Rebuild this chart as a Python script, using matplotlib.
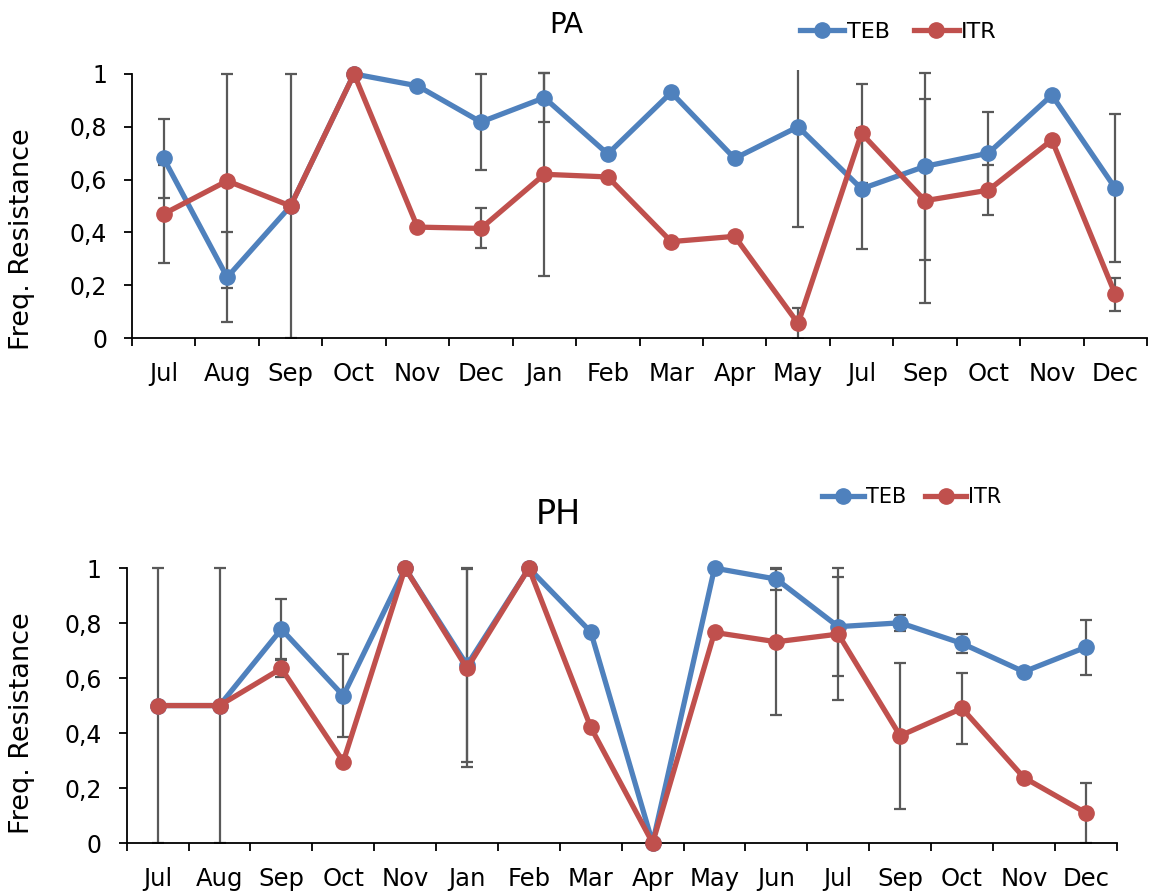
import matplotlib
matplotlib.use('Agg')
import matplotlib.pyplot as plt
import numpy as np

nan = np.nan

# PA panel
pa_months = ['Jul', 'Aug', 'Sep', 'Oct', 'Nov', 'Dec', 'Jan', 'Feb', 'Mar', 'Apr', 'May',
             'Jul', 'Sep', 'Oct', 'Nov', 'Dec']
pa_teb = [0.68, 0.23, 0.50, 1.00, 0.955, 0.818, 0.91, 0.697, 0.93, 0.68, 0.80,
          0.565, 0.65, 0.70, 0.92, 0.567]
pa_itr = [0.47, 0.595, 0.50, 1.00, 0.42, 0.415, 0.62, 0.61, 0.365, 0.385, 0.055,
          0.775, 0.52, 0.56, 0.75, 0.165]
pa_teb_err = [0.15, 0.17, 0.50, nan, nan, 0.183, 0.093, nan, nan, nan, 0.38,
              0.229, 0.354, 0.157, nan, 0.281]
pa_itr_err = [0.187, 0.405, nan, nan, nan, 0.076, 0.385, nan, nan, nan, 0.057,
              0.188, 0.387, 0.094, nan, 0.063]

# PH panel
ph_months = ['Jul', 'Aug', 'Sep', 'Oct', 'Nov', 'Jan', 'Feb', 'Mar', 'Apr', 'May', 'Jun',
             'Jul', 'Sep', 'Oct', 'Nov', 'Dec']
ph_teb = [0.5, 0.5, 0.778, 0.536, 1.0, 0.647, 1.0, 0.768, 0.0, 1.0, 0.96,
          0.787, 0.801, 0.726, 0.623, 0.712]
ph_itr = [0.5, 0.5, 0.635, 0.296, 1.0, 0.635, 1.0, 0.421, 0.0, 0.766, 0.732,
          0.76, 0.39, 0.49, 0.238, 0.11]
ph_teb_err = [0.5, 0.5, 0.11, 0.152, nan, 0.353, nan, nan, nan, nan, 0.04,
              0.18, 0.03, 0.033, nan, 0.10]
ph_itr_err = [nan, nan, 0.03, nan, nan, 0.36, nan, nan, nan, nan, 0.265,
              0.24, 0.265, 0.13, nan, 0.11]

yticks = [0, 0.2, 0.4, 0.6, 0.8, 1.0]
ytick_labels = ['0', '0,2', '0,4', '0,6', '0,8', '1']

BLUE = '#4F81BD'
RED = '#C0504D'
GREY = '#595959'

plt.rcParams['font.family'] = 'DejaVu Sans'

fig = plt.figure(figsize=(11.53, 8.96), dpi=100)


def draw_panel(ax, months, teb, itr, teb_err, itr_err):
    x = np.arange(len(months)) + 0.5
    for vals, err in [(teb, teb_err), (itr, itr_err)]:
        vals = np.array(vals)
        err = np.array(err)
        ok = ~np.isnan(err)
        ax.errorbar(x[ok], vals[ok], yerr=err[ok], fmt='none', ecolor=GREY,
                    elinewidth=1.6, capsize=4.5, capthick=1.6, zorder=1.5)
    l1, = ax.plot(x, teb, color=BLUE, lw=3.8, marker='o', ms=11, label='TEB',
                  clip_on=False, zorder=2)
    l2, = ax.plot(x, itr, color=RED, lw=3.8, marker='o', ms=11, label='ITR',
                  clip_on=False, zorder=3)
    ax.set_xlim(0, len(months))
    ax.set_ylim(0, 1.015)
    ax.spines['top'].set_visible(False)
    ax.spines['right'].set_visible(False)
    ax.spines['left'].set_bounds(0, 1)
    for s in ['left', 'bottom']:
        ax.spines[s].set_linewidth(1.3)
    ax.set_xticks(np.arange(len(months) + 1))
    ax.set_xticklabels([])
    ax.set_xticks(x, minor=True)
    ax.set_xticklabels(months, minor=True, fontsize=17.5)
    ax.tick_params(axis='x', which='major', direction='out', length=6, width=1.3)
    ax.tick_params(axis='x', which='minor', length=0, pad=17)
    ax.set_yticks(yticks)
    ax.set_yticklabels(ytick_labels, fontsize=17)
    ax.tick_params(axis='y', direction='out', length=6, width=1.3, pad=12)
    ax.set_ylabel('Freq. Resistance', fontsize=19.5)
    return l1, l2


ax1 = fig.add_axes([132 / 1153, 1 - 338 / 896, 1015 / 1153, 268 / 896])
h1 = draw_panel(ax1, pa_months, pa_teb, pa_itr, pa_teb_err, pa_itr_err)
ax1.yaxis.set_label_coords(-0.096, 0.37)

ax2 = fig.add_axes([126.7 / 1153, 1 - 843 / 896, 990 / 1153, 279 / 896])
h2 = draw_panel(ax2, ph_months, ph_teb, ph_itr, ph_teb_err, ph_itr_err)
ax2.yaxis.set_label_coords(-0.093, 0.43)

fig.text(566 / 1153, 1 - 25 / 896, 'PA', fontsize=20, ha='center', va='center')
fig.text(558 / 1153, 1 - 515 / 896, 'PH', fontsize=24, ha='center', va='center')

fig.legend(h1, ['TEB', 'ITR'], loc='center left', bbox_to_anchor=(800 / 1153, 1 - 32 / 896),
           frameon=False, fontsize=16, borderpad=0, borderaxespad=0, handlelength=2.0,
           handletextpad=0.1, columnspacing=1.1, ncol=2, numpoints=1)
fig.legend(h2, ['TEB', 'ITR'], loc='center left', bbox_to_anchor=(822 / 1153, 1 - 497 / 896),
           frameon=False, fontsize=15, borderpad=0, borderaxespad=0, handlelength=2.0,
           handletextpad=0.1, columnspacing=0.9, ncol=2, numpoints=1)

fig.savefig('out.png', dpi=100)
